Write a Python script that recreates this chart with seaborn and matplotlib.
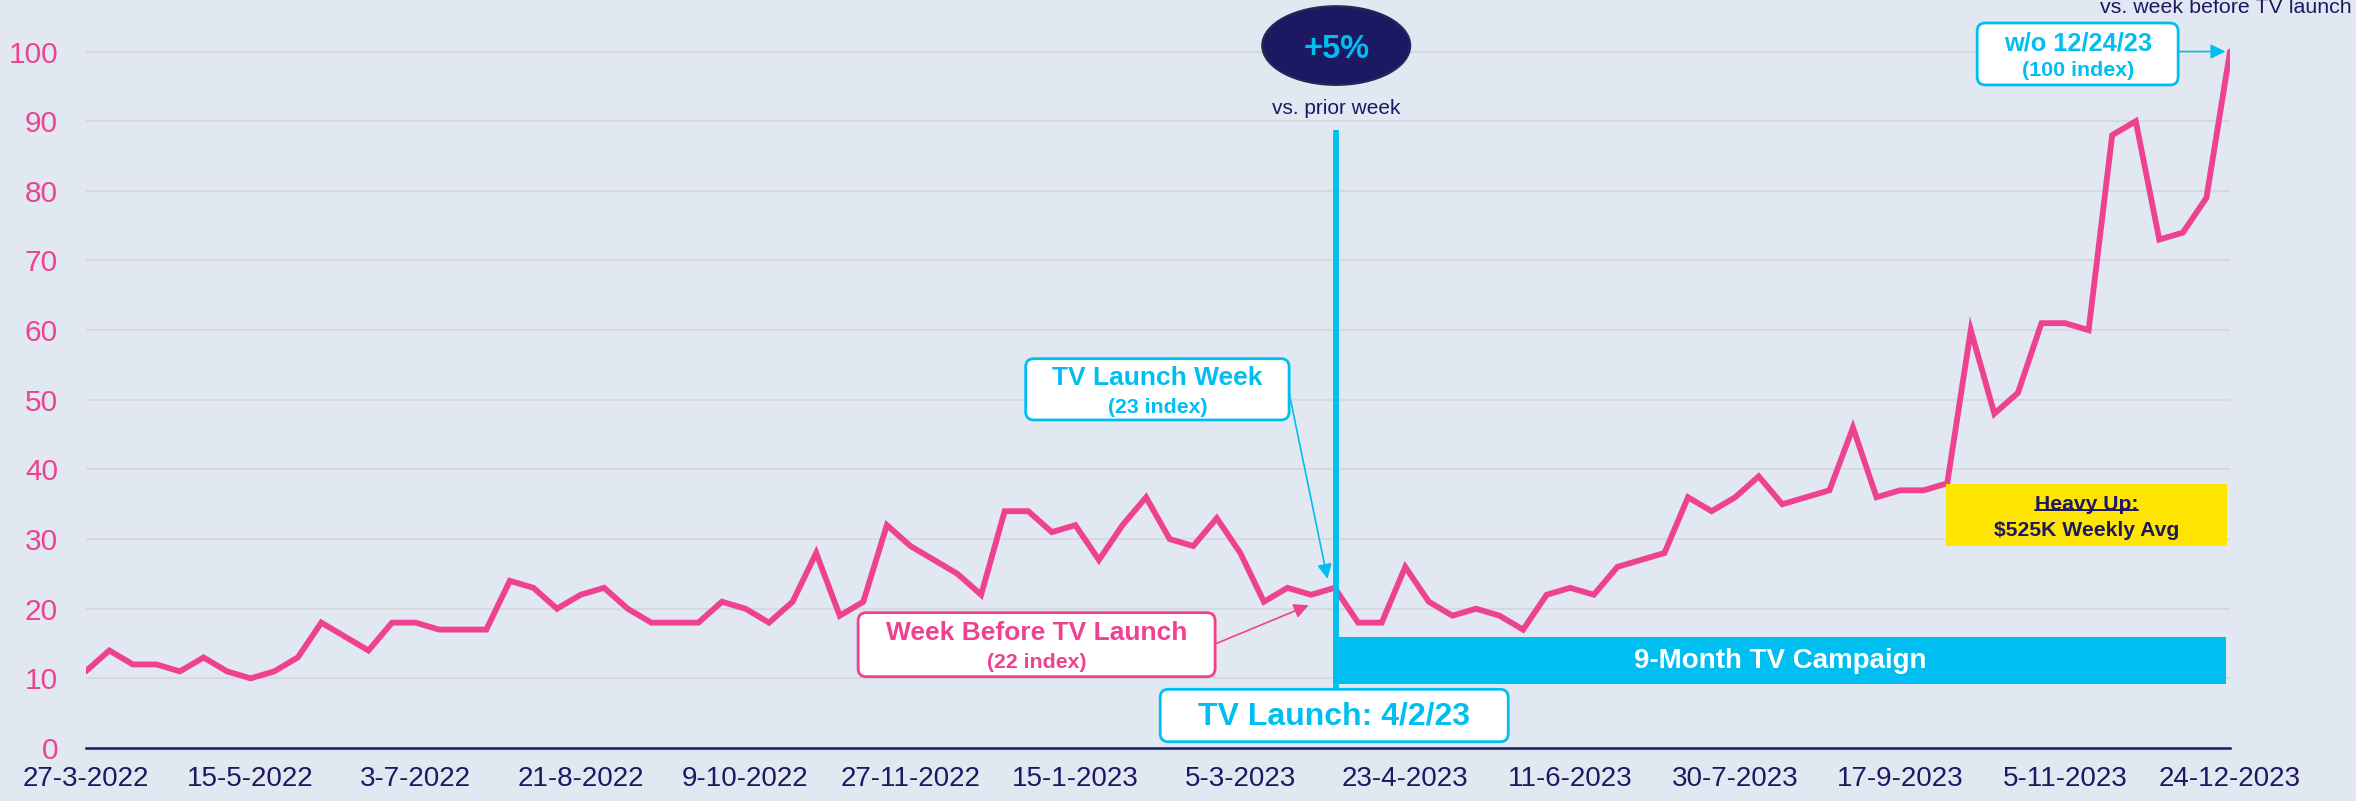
import numpy as np
import pandas as pd
import matplotlib
matplotlib.use("Agg")
import matplotlib.pyplot as plt
import seaborn as sns
from matplotlib.patches import FancyBboxPatch, Ellipse, Rectangle
from matplotlib.lines import Line2D

# ---------------- data ----------------
week_index = list(range(92))
index_values = [11, 14, 12, 12, 11, 13, 11, 10, 11, 13,
                18, 16, 14, 18, 18, 17, 17, 17, 24, 23,
                20, 22, 23, 20, 18, 18, 18, 21, 20, 18,
                21, 28, 19, 21, 32, 29, 27, 25, 22, 34,
                34, 31, 32, 27, 32, 36, 30, 29, 33, 28,
                21, 23, 22, 23, 18, 18, 26, 21, 19, 20,
                19, 17, 22, 23, 22, 26, 27, 28, 36, 34,
                36, 39, 35, 36, 37, 46, 36, 37, 37, 38,
                60, 48, 51, 61, 61, 60, 88, 90, 73, 74,
                79, 100]
tick_positions = list(range(0, 92, 7))
tick_labels = ["27-3-2022", "15-5-2022", "3-7-2022", "21-8-2022", "9-10-2022",
               "27-11-2022", "15-1-2023", "5-3-2023", "23-4-2023", "11-6-2023",
               "30-7-2023", "17-9-2023", "5-11-2023", "24-12-2023"]
y_ticks = list(range(0, 101, 10))
launch_week = 53
week_before = 52

# ---------------- style ----------------
BG = "#e1e8f2"
PINK = "#ee4290"
CYAN = "#00bff0"
NAVY = "#1d1862"
YELLOW = "#ffe600"
GRID = "#d5d8dc"

sns.set_theme(style="white")
plt.rcParams["font.family"] = ["Liberation Sans", "DejaVu Sans"]

W, H, DPI = 2356, 801, 100
fig = plt.figure(figsize=(W / DPI, H / DPI), dpi=DPI, facecolor=BG)
ax = fig.add_axes([85.7 / W, 53 / H, (2230 - 85.7) / W, 748 / H])
ax.set_facecolor(BG)

df = pd.DataFrame({"week": week_index, "index": index_values})

ax.set_xlim(0, 91)
ax.set_ylim(0, 107.4)
for yv in y_ticks[1:]:
    ax.axhline(yv, color=GRID, lw=1.3, zorder=0)

sns.lineplot(data=df, x="week", y="index", ax=ax, color=PINK, lw=4.2,
             zorder=3, solid_joinstyle="miter")

for s in ["top", "right", "left"]:
    ax.spines[s].set_visible(False)
ax.spines["bottom"].set_color(NAVY)
ax.spines["bottom"].set_linewidth(1.8)
ax.spines["bottom"].set_zorder(5)

ax.set_xticks(tick_positions)
ax.set_xticklabels(tick_labels, fontsize=20, color=NAVY)
ax.set_yticks(y_ticks)
ax.set_yticklabels([str(v) for v in y_ticks], fontsize=21.5, color=PINK)
ax.tick_params(axis="x", length=0, pad=13)
ax.tick_params(axis="y", length=0, pad=20)
ax.set_xlabel("")
ax.set_ylabel("")

ASPECT = 23.56 / 6.965


def rbox(x0, x1, y0, y1, ec, fc="white", lw=2.0, r=0.35):
    p = FancyBboxPatch((x0, y0), x1 - x0, y1 - y0,
                       boxstyle=f"round,pad=0,rounding_size={r}",
                       mutation_aspect=ASPECT, fc=fc, ec=ec, lw=lw,
                       transform=ax.transData, clip_on=False, zorder=6)
    ax.add_patch(p)


# campaign bar
ax.add_patch(Rectangle((52.94, 9.23), 90.85 - 52.94, 16.0 - 9.23, fc=CYAN,
                       ec="none", zorder=4, clip_on=False))
ax.text(71.9, 12.55, "9-Month TV Campaign", color="white", fontsize=20,
        fontweight="bold", ha="center", va="center", zorder=7)

# vertical launch line
ax.plot([launch_week + 0.05, launch_week + 0.05], [8.4, 88.7], color=CYAN,
        lw=4.2, zorder=5, solid_capstyle="butt", clip_on=False)

# TV Launch date box
rbox(45.6, 60.37, 0.9, 8.43, CYAN)
ax.text(52.98, 4.55, "TV Launch: 4/2/23", color=CYAN, fontsize=23,
        fontweight="bold", ha="center", va="center", zorder=7)

# Week before TV launch box
rbox(32.78, 47.93, 10.24, 19.43, PINK)
ax.text(40.35, 16.5, "Week Before TV Launch", color=PINK, fontsize=19,
        fontweight="bold", ha="center", va="center", zorder=7)
ax.text(40.35, 12.25, "(22 index)", color=PINK, fontsize=15.3,
        fontweight="bold", ha="center", va="center", zorder=7)
ax.annotate("", xy=(51.9, 20.5), xytext=(48.0, 15.03),
            arrowprops=dict(arrowstyle="-|>", color=PINK, lw=1.2,
                            mutation_scale=22, shrinkA=0, shrinkB=0),
            zorder=7)

# TV Launch Week box
rbox(39.89, 51.07, 47.1, 55.9, CYAN)
ax.text(45.48, 53.1, "TV Launch Week", color=CYAN, fontsize=19,
        fontweight="bold", ha="center", va="center", zorder=7)
ax.text(45.48, 48.85, "(23 index)", color=CYAN, fontsize=15.3,
        fontweight="bold", ha="center", va="center", zorder=7)
ax.annotate("", xy=(52.7, 24.3), xytext=(51.07, 51.0),
            arrowprops=dict(arrowstyle="-|>", color=CYAN, lw=1.2,
                            mutation_scale=22, shrinkA=0, shrinkB=0),
            zorder=7)

# +5% ellipse
ax.add_patch(Ellipse((53.07, 100.86), 6.28, 11.3, fc="#1d1862", ec="#1b2d55",
                     lw=1.5, zorder=6, clip_on=False))
ax.text(53.07, 100.3, "+5%", color=CYAN, fontsize=23.5, fontweight="bold",
        ha="center", va="center", zorder=7)
ax.text(53.07, 91.8, "vs. prior week", color=NAVY, fontsize=15,
        ha="center", va="center", zorder=7)

# Heavy up box
ax.add_patch(Rectangle((78.96, 29.0), 90.87 - 78.96, 37.9 - 29.0, fc=YELLOW,
                       ec="none", zorder=6, clip_on=False))
t_heavy = ax.text(84.9, 35.0, "Heavy Up:", color=NAVY, fontsize=15.2,
                  fontweight="bold", ha="center", va="center", zorder=7)
ax.text(84.9, 31.3, "$525K Weekly Avg", color=NAVY, fontsize=15.2,
        fontweight="bold", ha="center", va="center", zorder=7)

# w/o 12/24/23 box
rbox(80.27, 88.8, 95.2, 104.1, CYAN)
ax.text(84.54, 101.2, "w/o 12/24/23", color=CYAN, fontsize=18.3,
        fontweight="bold", ha="center", va="center", zorder=7)
ax.text(84.54, 97.25, "(100 index)", color=CYAN, fontsize=15.4,
        fontweight="bold", ha="center", va="center", zorder=7)
ax.annotate("", xy=(90.8, 100.0), xytext=(88.8, 100.0),
            arrowprops=dict(arrowstyle="-|>", color=CYAN, lw=1.2,
                            mutation_scale=22, shrinkA=0, shrinkB=0),
            zorder=7)

# clipped top-right caption
fig.text(2226 / W, 1 - 13.3 / H, "vs. week before TV launch", color=NAVY,
         fontsize=15.4, ha="center", va="baseline")

# underline for "Heavy Up:"
fig.canvas.draw()
bb = t_heavy.get_window_extent(renderer=fig.canvas.get_renderer())
inv = fig.transFigure.inverted()
(x0f, y0f), (x1f, y1f) = inv.transform([(bb.x0, bb.y0), (bb.x1, bb.y0)])
fig.add_artist(Line2D([x0f, x1f], [y0f + 3.5 / H, y0f + 3.5 / H],
                      color=NAVY, lw=1.4, zorder=8))

fig.savefig("out.png", dpi=DPI, facecolor=BG)
